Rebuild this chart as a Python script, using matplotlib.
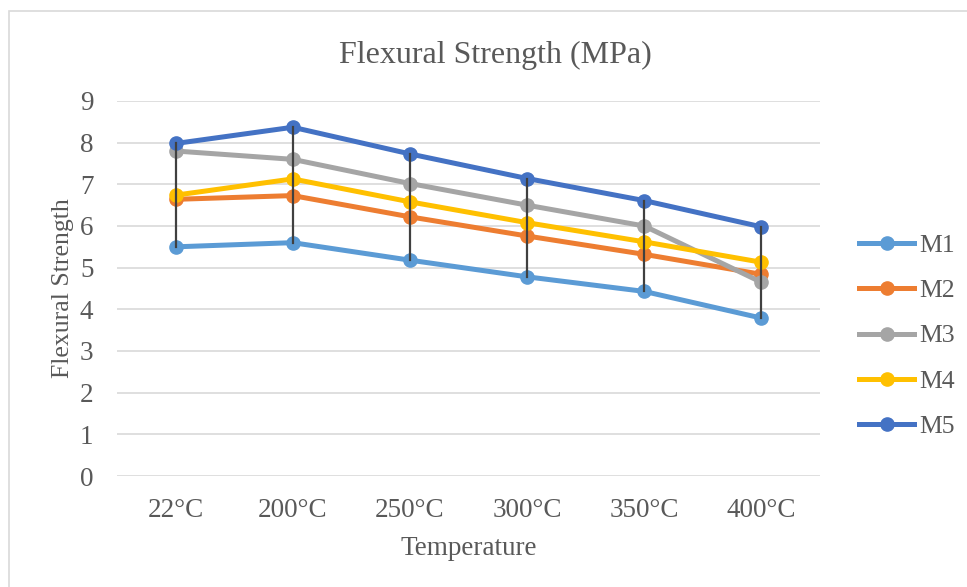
import matplotlib
matplotlib.use("Agg")
import matplotlib.pyplot as plt
from matplotlib.patches import Rectangle
from matplotlib.lines import Line2D

categories = ["22°C", "200°C", "250°C", "300°C", "350°C", "400°C"]
M1 = [5.50, 5.60, 5.18, 4.78, 4.43, 3.79]
M2 = [6.64, 6.73, 6.22, 5.76, 5.32, 4.84]
M3 = [7.80, 7.60, 7.02, 6.50, 6.00, 4.65]
M4 = [6.74, 7.13, 6.58, 6.08, 5.62, 5.13]
M5 = [7.98, 8.37, 7.73, 7.14, 6.61, 5.98]
series_names = ["M1", "M2", "M3", "M4", "M5"]
series = [M1, M2, M3, M4, M5]
colors = ["#5B9BD5", "#ED7D31", "#A5A5A5", "#FFC000", "#4472C4"]
yticks = list(range(0, 10))

W, H = 967, 587
fig = plt.figure(figsize=(W / 100, H / 100), dpi=100)
plt.rcParams['font.family'] = ['Liberation Serif', 'DejaVu Serif']
txt = "#595959"

# chart border
fig.patches.append(Rectangle((9 / W, -0.05), 1.2, 1.05 - 11 / H, transform=fig.transFigure,
                             fill=False, edgecolor="#D9D9D9", linewidth=1.2))

left, right, top, bottom = 117, 820, 101, 476
ax = fig.add_axes([left / W, 1 - bottom / H, (right - left) / W, (bottom - top) / H])

x = list(range(len(categories)))
# high-low lines
for i in x:
    vals = [s[i] for s in series]
    ax.plot([i, i], [min(vals), max(vals)], color="#404040", linewidth=1.6, zorder=5)

lw, ms = 3.6, 9.5
for name, s, c in zip(series_names, series, colors):
    ax.plot(x, s, color=c, linewidth=lw, marker="o", markersize=ms, label=name, zorder=3,
            solid_capstyle="round")

ax.set_xlim(-0.5, len(categories) - 0.5)
ax.set_ylim(0, 9)
ax.set_yticks(yticks)
ax.set_xticks(x)
ax.set_xticklabels(categories)
ax.grid(axis="y", color="#D9D9D9", linewidth=1.2)
ax.set_axisbelow(True)
for sp in ax.spines.values():
    sp.set_visible(False)
ax.tick_params(length=0, labelsize=19.5, labelcolor=txt)
ax.tick_params(axis="y", pad=17)
ax.tick_params(axis="x", pad=16)

fig.text(495 / W, 1 - 55 / H, "Flexural Strength (MPa)", fontsize=23, color=txt,
         ha="center", va="center")
ax.set_xlabel("Temperature", fontsize=19.5, color=txt, labelpad=9)
ax.set_ylabel("Flexural Strength", fontsize=18.5, color=txt, labelpad=4)

handles = [Line2D([0], [0], color=c, linewidth=lw, marker="o", markersize=ms) for c in colors]
leg = fig.legend(handles, series_names, loc="center left", bbox_to_anchor=(836 / W, 1 - 336 / H),
                 frameon=False, fontsize=18.5, labelcolor=txt, handlelength=2.15,
                 handletextpad=0.2, labelspacing=0.87)

fig.savefig("out.png", dpi=100)
